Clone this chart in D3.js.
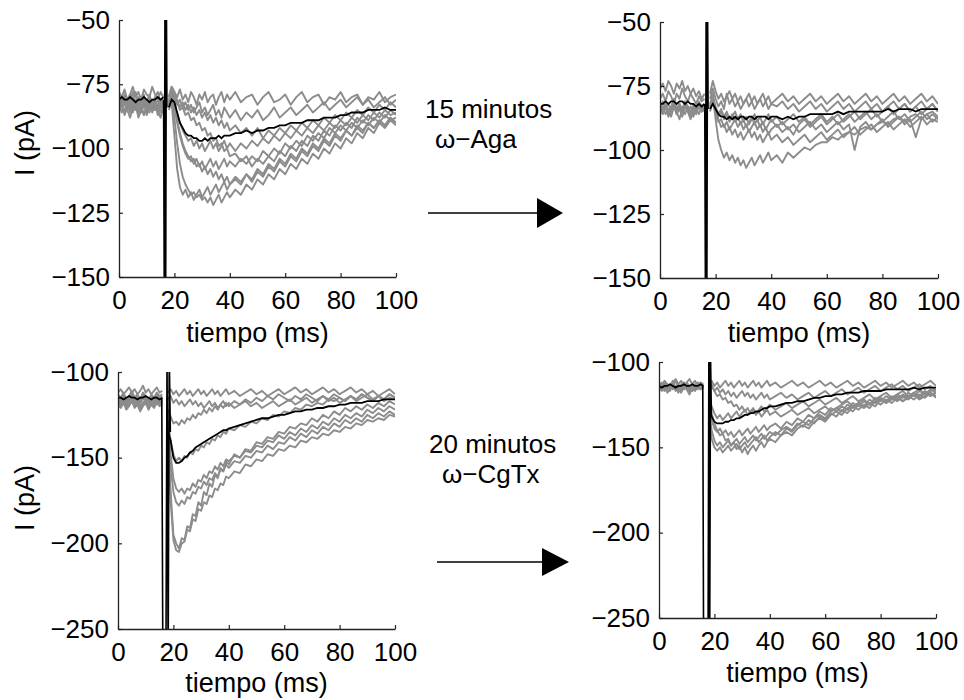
<!DOCTYPE html>
<html>
<head>
<meta charset="utf-8">
<script src="https://cdn.jsdelivr.net/npm/d3@7"></script>
<style>
    body { margin: 0; background: #fff; }
    text { font-family: "Liberation Sans", Arial, sans-serif; }
</style>
</head>
<body>
<svg id="fig" width="964" height="700"></svg>
<script>
// Sample times (ms) shared by every trace; the first 17 are before the stimulus artifact
const tiempo = [0,1,2,3,4,5,6,7,8,9,10,11,12,13,14,15,16,
    18,19,20,21,22,23,24,25,26,27,28,29,30,31,32,33,34,35,36,37,38,39,40,
    42,44,46,48,50,52,54,56,58,60,62,64,66,68,70,72,74,76,78,80,82,84,86,88,90,92,94,96,98,100]

const ticksX = [0, 20, 40, 60, 80, 100]
const ticksAga = [-150, -125, -100, -75, -50]
const ticksCgTx = [-250, -200, -150, -100]

// ---- top left: control before w-Aga ----
const mediaCtrlAga = [-81,-80,-81,-81,-80,-81,-82,-81,-81,-80,-81,-82,-81,-81,-80,-81,-80,
    -84,-81,-82,-86,-90,-92,-94,-95,-95,-96,-96,-97,-97,-96,-97,-96,-96,-96,-95,-96,-95,-95,-95,
    -94,-94,-93,-94,-93,-93,-92,-92,-91,-91,-90,-90,-90,-89,-89,-89,-88,-88,-88,-87,-87,-86,-86,-86,-85,-85,-85,-84,-85,-85]
const trazosCtrlAga = [
    [-78,-80,-77,-81,-79,-76,-80,-78,-81,-77,-79,-80,-76,-79,-81,-78,-80,
     -80,-76,-78,-80,-77,-81,-79,-82,-78,-80,-83,-79,-81,-78,-82,-80,-79,-83,-80,-78,-82,-79,-81,
     -78,-82,-80,-79,-83,-80,-78,-82,-81,-79,-83,-80,-78,-82,-80,-79,-83,-80,-81,-78,-82,-80,-79,-83,-80,-81,-78,-82,-80,-79],
    [-82,-84,-81,-85,-83,-80,-84,-82,-86,-83,-81,-84,-82,-85,-83,-81,-84,
     -82,-78,-80,-83,-81,-84,-82,-85,-83,-86,-84,-82,-86,-84,-87,-85,-83,-87,-85,-88,-84,-86,-88,
     -85,-89,-86,-88,-85,-89,-87,-84,-88,-86,-84,-87,-85,-83,-86,-84,-82,-85,-83,-81,-84,-82,-80,-83,-81,-84,-82,-80,-83,-81],
    [-80,-83,-79,-82,-85,-81,-78,-83,-80,-84,-82,-79,-83,-81,-85,-82,-80,
     -81,-77,-79,-81,-84,-82,-85,-83,-86,-84,-87,-85,-88,-86,-89,-87,-90,-88,-91,-89,-92,-90,-93,
     -91,-94,-92,-95,-92,-96,-93,-95,-92,-94,-91,-93,-90,-92,-89,-91,-88,-90,-87,-89,-86,-88,-85,-87,-84,-86,-83,-85,-82,-84],
    [-84,-81,-86,-83,-80,-85,-82,-87,-84,-81,-86,-83,-85,-82,-87,-84,-82,
     -83,-79,-82,-87,-90,-93,-95,-97,-96,-99,-97,-100,-98,-101,-99,-97,-100,-98,-101,-99,-97,-100,-98,
     -101,-98,-100,-97,-99,-96,-98,-95,-97,-94,-96,-93,-95,-92,-94,-91,-93,-90,-92,-89,-91,-88,-90,-87,-89,-86,-88,-85,-87,-86],
    [-79,-82,-80,-84,-81,-78,-83,-80,-82,-79,-84,-81,-83,-80,-78,-82,-81,
     -80,-76,-78,-82,-85,-84,-87,-86,-89,-88,-91,-90,-93,-92,-95,-94,-97,-96,-99,-98,-101,-100,-103,
     -102,-105,-103,-107,-104,-106,-103,-105,-101,-103,-99,-101,-97,-99,-95,-97,-93,-95,-91,-93,-90,-92,-88,-90,-87,-89,-86,-88,-85,-87],
    [-83,-86,-82,-85,-88,-84,-81,-86,-83,-87,-84,-82,-86,-83,-85,-88,-84,
     -84,-80,-84,-90,-95,-99,-102,-104,-103,-106,-104,-107,-105,-108,-106,-104,-107,-105,-108,-106,-104,-107,-105,
     -107,-104,-106,-103,-105,-101,-103,-100,-102,-98,-100,-97,-99,-95,-97,-94,-96,-92,-94,-91,-93,-90,-92,-89,-91,-88,-90,-87,-89,-88],
    [-81,-84,-80,-83,-86,-82,-85,-81,-84,-87,-83,-80,-84,-82,-86,-83,-81,
     -82,-78,-83,-89,-94,-98,-101,-103,-105,-104,-107,-106,-109,-107,-110,-108,-111,-109,-112,-110,-113,-111,-114,
     -111,-113,-110,-113,-109,-111,-107,-109,-105,-107,-103,-105,-101,-103,-99,-101,-97,-99,-95,-97,-93,-95,-92,-94,-90,-92,-89,-91,-88,-90],
    [-85,-82,-87,-84,-81,-86,-83,-88,-85,-82,-87,-84,-81,-85,-83,-86,-84,
     -85,-82,-95,-108,-115,-118,-116,-119,-117,-120,-118,-116,-119,-117,-115,-118,-116,-114,-117,-115,-113,-116,-114,
     -112,-114,-110,-112,-108,-110,-106,-108,-104,-106,-102,-104,-100,-102,-98,-100,-96,-98,-94,-96,-93,-95,-91,-93,-90,-92,-89,-91,-88,-90],
    [-80,-83,-86,-82,-79,-84,-81,-85,-82,-80,-83,-86,-82,-84,-81,-83,-85,
     -83,-79,-88,-98,-106,-111,-114,-116,-118,-117,-119,-118,-120,-119,-121,-119,-122,-120,-118,-121,-119,-117,-119,
     -116,-118,-114,-116,-112,-114,-110,-112,-108,-110,-106,-108,-104,-106,-102,-104,-100,-102,-98,-100,-96,-98,-94,-96,-92,-94,-90,-92,-89,-91]
]
const artTCtrlAga = [16.1, 16.35, 16.6, 16.85, 17.1, 17.3]
const artICtrlAga = [-81, -160, -40, -160, -40, -84]

// ---- top right: 15 minutes w-Aga ----
const mediaAga15 = [-82,-82,-81,-82,-81,-81,-82,-81,-81,-82,-81,-82,-82,-83,-82,-83,-82,
    -84,-82,-84,-86,-87,-87,-88,-87,-88,-87,-88,-87,-87,-88,-87,-87,-88,-87,-87,-87,-87,-88,-87,
    -87,-88,-87,-88,-87,-87,-86,-86,-86,-86,-86,-85,-86,-85,-85,-85,-85,-85,-85,-85,-84,-85,-84,-84,-84,-85,-84,-84,-84,-84]
const trazosAga15 = [
    [-76,-74,-77,-73,-75,-78,-74,-76,-73,-77,-75,-78,-76,-79,-77,-80,-78,
     -78,-73,-77,-80,-78,-81,-79,-77,-80,-78,-81,-79,-82,-80,-78,-81,-79,-82,-80,-78,-81,-79,-82,
     -80,-78,-81,-79,-82,-80,-78,-81,-79,-82,-80,-78,-81,-79,-82,-80,-78,-81,-79,-82,-80,-78,-81,-79,-82,-80,-78,-81,-79,-82],
    [-80,-78,-81,-77,-79,-82,-78,-80,-76,-79,-81,-78,-80,-82,-79,-81,-80,
     -80,-76,-80,-83,-81,-84,-78,-82,-80,-83,-81,-84,-82,-80,-83,-81,-84,-82,-80,-83,-81,-84,-82,
     -83,-81,-84,-82,-85,-83,-81,-84,-82,-85,-83,-81,-84,-82,-85,-83,-81,-84,-82,-85,-83,-81,-84,-82,-85,-83,-81,-84,-82,-85],
    [-84,-86,-83,-87,-85,-82,-86,-84,-87,-83,-85,-88,-84,-86,-83,-85,-84,
     -84,-80,-84,-87,-85,-88,-86,-89,-87,-85,-88,-86,-89,-87,-90,-88,-86,-89,-87,-90,-88,-86,-89,
     -87,-90,-88,-86,-89,-87,-90,-88,-86,-89,-87,-90,-88,-86,-89,-87,-85,-88,-86,-89,-87,-85,-88,-86,-89,-87,-85,-88,-86,-88],
    [-82,-85,-83,-86,-84,-81,-85,-83,-86,-82,-84,-87,-83,-85,-82,-84,-83,
     -83,-79,-83,-86,-84,-87,-85,-88,-86,-89,-87,-90,-88,-91,-89,-87,-90,-88,-91,-89,-92,-90,-88,
     -91,-89,-92,-90,-93,-91,-89,-92,-90,-93,-91,-89,-92,-90,-100,-91,-89,-92,-90,-88,-91,-89,-87,-90,-88,-95,-88,-86,-89,-87],
    [-85,-83,-86,-84,-87,-83,-85,-88,-84,-86,-83,-85,-87,-84,-86,-83,-85,
     -85,-81,-86,-89,-88,-91,-89,-92,-90,-88,-91,-89,-92,-90,-93,-91,-89,-92,-90,-93,-91,-94,-92,
     -90,-93,-91,-94,-90,-88,-91,-89,-87,-90,-88,-86,-89,-87,-85,-88,-86,-84,-87,-85,-83,-86,-84,-82,-85,-83,-86,-84,-82,-85],
    [-81,-84,-82,-85,-83,-80,-84,-82,-85,-81,-83,-86,-82,-84,-81,-83,-82,
     -82,-78,-88,-96,-100,-103,-101,-104,-102,-105,-103,-106,-104,-107,-105,-103,-106,-104,-102,-105,-103,-101,-104,
     -102,-105,-101,-103,-101,-99,-100,-98,-97,-97,-95,-96,-94,-93,-94,-92,-91,-92,-90,-89,-90,-88,-87,-89,-87,-86,-88,-86,-85,-87],
    [-83,-81,-84,-82,-85,-83,-86,-82,-84,-81,-85,-83,-86,-84,-82,-85,-83,
     -83,-80,-84,-88,-91,-90,-93,-91,-94,-92,-95,-93,-96,-94,-92,-95,-93,-96,-94,-97,-95,-93,-96,
     -94,-97,-95,-98,-96,-94,-97,-95,-93,-96,-94,-92,-95,-93,-91,-94,-92,-90,-93,-91,-89,-92,-90,-88,-91,-89,-87,-90,-88,-89]
]
const artTAga15 = [16.1, 16.35, 16.6, 16.85, 17.1, 17.3]
const artIAga15 = [-82, -160, -40, -160, -40, -84]

// ---- bottom left: control before w-CgTx ----
const mediaCtrlCgTx = [-115,-115,-116,-115,-114,-115,-115,-116,-115,-115,-114,-115,-116,-115,-115,-116,-115,
    -135,-140,-150,-153,-153,-152,-150,-149,-147,-146,-144,-143,-142,-141,-140,-139,-138,-137,-136,-135,-134,-134,-133,
    -132,-131,-130,-129,-128,-127,-127,-126,-125,-125,-124,-123,-123,-122,-122,-121,-121,-120,-120,-119,-119,-118,-118,-118,-117,-117,-117,-116,-116,-116]
const trazosCtrlCgTx = [
    [-112,-110,-113,-111,-109,-112,-110,-113,-111,-108,-112,-110,-113,-111,-109,-112,-111,
     -112,-110,-113,-111,-114,-112,-110,-113,-111,-114,-112,-110,-113,-111,-114,-112,-110,-113,-111,-114,-112,-110,-113,
     -111,-114,-112,-110,-113,-111,-114,-112,-110,-113,-111,-109,-112,-110,-113,-111,-109,-112,-110,-113,-111,-109,-112,-110,-113,-111,-114,-112,-110,-113],
    [-116,-118,-115,-119,-117,-114,-118,-116,-119,-115,-117,-120,-116,-118,-115,-117,-116,
     -116,-114,-118,-116,-119,-117,-120,-118,-116,-119,-117,-120,-118,-121,-119,-117,-120,-118,-121,-119,-117,-120,-118,
     -121,-119,-117,-120,-118,-121,-119,-117,-120,-118,-116,-119,-117,-115,-118,-116,-114,-117,-115,-118,-116,-114,-117,-115,-113,-116,-114,-117,-115,-116],
    [-118,-120,-117,-121,-119,-116,-120,-118,-122,-119,-117,-121,-118,-120,-117,-119,-118,
     -122,-126,-130,-129,-131,-128,-130,-127,-128,-125,-127,-124,-125,-122,-124,-121,-123,-120,-122,-119,-121,-118,-120,
     -117,-119,-116,-118,-115,-117,-114,-116,-113,-115,-117,-114,-116,-113,-115,-117,-114,-116,-113,-115,-117,-114,-116,-113,-115,-117,-114,-116,-113,-115],
    [-114,-116,-113,-117,-115,-112,-116,-114,-117,-113,-115,-118,-114,-116,-113,-115,-114,
     -128,-140,-148,-152,-150,-152,-149,-150,-147,-148,-145,-146,-143,-144,-141,-142,-139,-140,-137,-138,-135,-136,-133,
     -134,-131,-132,-129,-130,-127,-128,-125,-126,-123,-124,-121,-122,-119,-120,-118,-119,-116,-117,-115,-117,-114,-116,-113,-115,-117,-114,-116,-113,-115],
    [-117,-119,-116,-120,-118,-115,-119,-117,-121,-118,-116,-120,-117,-119,-116,-118,-117,
     -130,-148,-162,-168,-170,-168,-171,-168,-169,-165,-167,-163,-164,-160,-162,-158,-159,-155,-157,-153,-155,-151,-152,
     -149,-150,-146,-147,-143,-144,-140,-141,-137,-139,-135,-137,-133,-135,-131,-133,-129,-131,-127,-129,-125,-127,-124,-126,-122,-124,-121,-123,-120,-122],
    [-113,-115,-112,-116,-114,-111,-115,-113,-116,-112,-114,-117,-113,-115,-112,-114,-113,
     -132,-155,-170,-176,-178,-175,-177,-173,-174,-170,-171,-167,-168,-164,-166,-162,-163,-159,-161,-157,-158,-154,-156,
     -152,-153,-149,-150,-146,-147,-143,-145,-141,-142,-138,-140,-136,-138,-134,-136,-132,-134,-130,-132,-128,-130,-127,-129,-125,-127,-124,-126,-123,-125],
    [-119,-121,-118,-122,-120,-117,-121,-119,-123,-120,-118,-122,-119,-121,-118,-120,-119,
     -135,-170,-195,-200,-203,-197,-198,-190,-191,-183,-184,-176,-178,-170,-172,-165,-167,-160,-162,-156,-158,-152,-154,
     -148,-150,-145,-146,-141,-142,-138,-139,-135,-136,-132,-133,-130,-131,-127,-129,-125,-127,-123,-125,-121,-123,-120,-122,-119,-121,-118,-120,-117,-119],
    [-115,-117,-114,-118,-116,-113,-117,-115,-118,-114,-116,-119,-115,-117,-114,-116,-115,
     -135,-175,-198,-204,-205,-200,-199,-192,-193,-186,-187,-180,-181,-176,-177,-172,-173,-168,-169,-165,-166,-161,-162,
     -158,-159,-154,-155,-151,-152,-148,-149,-145,-146,-143,-144,-140,-141,-138,-139,-136,-137,-134,-135,-132,-133,-130,-131,-128,-129,-127,-128,-125,-126]
]
const artTCtrlCgTx = [15.8, 16.2, 17.3, 17.7, 18.1, 18.5, 18.9]
const artICtrlCgTx = [-115, -270, -270, -90, -270, -90, -135]

// ---- bottom right: 20 minutes w-CgTx ----
const mediaCgTx20 = [-114,-115,-114,-114,-113,-114,-115,-114,-114,-113,-114,-114,-113,-114,-114,-113,-114,
    -125,-132,-135,-136,-136,-136,-135,-135,-134,-134,-133,-133,-132,-131,-131,-130,-130,-129,-129,-128,-127,-127,-126,
    -126,-125,-124,-124,-123,-123,-122,-121,-121,-120,-120,-119,-119,-118,-118,-118,-117,-117,-117,-117,-116,-116,-116,-116,-116,-115,-116,-115,-115,-115]
const trazosCgTx20 = [
    [-112,-114,-111,-113,-115,-112,-110,-113,-111,-114,-112,-110,-113,-111,-114,-112,-113,
     -113,-111,-114,-112,-115,-113,-111,-114,-112,-115,-113,-111,-114,-112,-115,-113,-111,-114,-112,-115,-113,-111,-114,
     -112,-115,-113,-111,-114,-112,-115,-113,-111,-114,-112,-115,-113,-111,-114,-112,-115,-113,-111,-114,-112,-115,-113,-111,-114,-112,-115,-113,-111,-114],
    [-115,-113,-116,-114,-117,-113,-115,-118,-114,-116,-113,-115,-117,-114,-116,-113,-115,
     -116,-114,-117,-115,-118,-116,-119,-117,-120,-118,-121,-119,-117,-120,-118,-121,-119,-122,-120,-118,-121,-119,-122,
     -120,-118,-121,-119,-122,-120,-118,-121,-119,-117,-120,-118,-116,-119,-117,-115,-118,-116,-114,-117,-115,-113,-116,-114,-117,-115,-113,-116,-114,-117],
    [-113,-116,-114,-117,-115,-112,-116,-114,-117,-113,-115,-118,-114,-116,-113,-115,-114,
     -115,-113,-117,-120,-119,-122,-121,-124,-123,-126,-125,-128,-126,-129,-127,-130,-128,-131,-129,-132,-130,-128,-131,
     -129,-132,-130,-128,-131,-129,-127,-130,-128,-126,-129,-127,-125,-123,-126,-124,-122,-125,-123,-121,-124,-122,-120,-123,-121,-119,-122,-120,-118,-121],
    [-114,-112,-115,-113,-116,-114,-111,-115,-113,-116,-112,-114,-117,-113,-115,-112,-114,
     -120,-126,-130,-133,-131,-134,-132,-130,-133,-131,-129,-132,-130,-128,-131,-129,-127,-130,-128,-126,-129,-127,-125,
     -128,-126,-124,-127,-125,-123,-126,-124,-122,-125,-123,-121,-124,-122,-120,-123,-121,-119,-122,-120,-118,-121,-119,-117,-120,-118,-116,-119,-117,-116],
    [-116,-114,-117,-115,-113,-116,-114,-117,-115,-112,-116,-114,-117,-115,-113,-116,-115,
     -125,-134,-139,-141,-139,-142,-140,-143,-141,-144,-142,-140,-143,-141,-139,-142,-140,-138,-141,-139,-137,-140,-138,
     -136,-139,-135,-137,-133,-135,-131,-133,-129,-131,-127,-129,-126,-128,-124,-126,-123,-125,-121,-123,-120,-122,-119,-121,-118,-120,-117,-119,-116,-118],
    [-113,-115,-112,-116,-114,-111,-115,-113,-116,-112,-114,-117,-113,-115,-112,-114,-113,
     -128,-140,-146,-149,-147,-150,-148,-146,-149,-147,-145,-148,-146,-144,-147,-145,-143,-146,-144,-142,-145,-143,-141,
     -143,-140,-138,-140,-136,-138,-134,-136,-132,-134,-130,-132,-128,-130,-126,-128,-125,-127,-123,-125,-122,-124,-121,-123,-120,-122,-119,-121,-118,-120],
    [-115,-117,-114,-118,-116,-113,-117,-115,-118,-114,-116,-119,-115,-117,-114,-116,-115,
     -122,-130,-136,-140,-143,-142,-146,-145,-149,-147,-151,-149,-153,-150,-154,-151,-149,-152,-149,-147,-150,-147,-145,
     -147,-143,-141,-143,-139,-137,-139,-135,-133,-135,-131,-129,-131,-127,-129,-125,-127,-124,-126,-122,-124,-121,-123,-120,-122,-119,-121,-118,-120,-118],
    [-114,-116,-113,-117,-115,-112,-116,-114,-117,-113,-115,-118,-114,-116,-113,-115,-114,
     -132,-145,-150,-152,-150,-153,-151,-149,-152,-150,-148,-151,-149,-147,-150,-148,-146,-144,-147,-145,-143,-146,-144,
     -141,-143,-139,-141,-137,-135,-137,-133,-131,-133,-129,-127,-129,-125,-127,-124,-126,-122,-124,-121,-123,-120,-122,-119,-121,-118,-120,-117,-119,-118]
]
const artTCgTx20 = [15.8, 16.1, 17.7, 18.0, 18.3, 18.6, 18.9]
const artICgTx20 = [-114, -270, -270, -95, -270, -95, -130]

// Panel layout (pixel boxes)
const paneles = [
    { id: "ctrlAga", media: mediaCtrlAga, trazos: trazosCtrlAga, artT: artTCtrlAga, artI: artICtrlAga,
      x0: 119, x1: 396, y0: 20, y1: 277, dominio: [-150, -50], ticksY: ticksAga, ylabel: 143, xlabel: 342 },
    { id: "aga15", media: mediaAga15, trazos: trazosAga15, artT: artTAga15, artI: artIAga15,
      x0: 660, x1: 938, y0: 22, y1: 278, dominio: [-150, -50], ticksY: ticksAga, ylabel: null, xlabel: 342 },
    { id: "ctrlCgTx", media: mediaCtrlCgTx, trazos: trazosCtrlCgTx, artT: artTCtrlCgTx, artI: artICtrlCgTx,
      x0: 118, x1: 395, y0: 372, y1: 629, dominio: [-250, -100], ticksY: ticksCgTx, ylabel: 498, xlabel: 692 },
    { id: "cgtx20", media: mediaCgTx20, trazos: trazosCgTx20, artT: artTCgTx20, artI: artICgTx20,
      x0: 659, x1: 936, y0: 362, y1: 618, dominio: [-250, -100], ticksY: ticksCgTx, ylabel: null, xlabel: 682 }
]

const svg = d3.select("#fig")
const defs = svg.append("defs")

function drawPanel(p) {
    var x = d3.scaleLinear().domain([0, 100]).range([p.x0, p.x1])
    var y = d3.scaleLinear().domain(p.dominio).range([p.y1, p.y0])

    defs.append("clipPath").attr("id", "clip-" + p.id)
        .append("rect")
        .attr("x", p.x0).attr("y", p.y0)
        .attr("width", p.x1 - p.x0).attr("height", p.y1 - p.y0)

    var g = svg.append("g").attr("id", p.id)
    var area = g.append("g").attr("clip-path", "url(#clip-" + p.id + ")")

    var line = d3.line().x(d => x(d[0])).y(d => y(d[1]))

    // pre and post artifact pieces are drawn separately
    function segments(vals) {
        var pts = tiempo.map((t, i) => [t, vals[i]]).filter(d => d[1] !== undefined)
        return [pts.slice(0, 17), pts.slice(17)]
    }

    p.trazos.forEach(tr => {
        area.selectAll(null)
            .data(segments(tr))
            .enter()
            .append("path")
            .attr("d", line)
            .attr("fill", "none")
            .attr("stroke", "#8c8c8c")
            .attr("stroke-width", 1.9)
            .attr("stroke-linejoin", "round")
    })

    area.selectAll(null)
        .data(segments(p.media))
        .enter()
        .append("path")
        .attr("d", line)
        .attr("fill", "none")
        .attr("stroke", "#000")
        .attr("stroke-width", 1.8)

    // stimulus artifact
    area.append("path")
        .datum(p.artT.map((t, i) => [t, p.artI[i]]))
        .attr("d", line)
        .attr("fill", "none")
        .attr("stroke", "#000")
        .attr("stroke-width", 1.6)

    // axes, MATLAB style with inward ticks
    var ax = g.append("g")
        .attr("transform", "translate(0," + p.y1 + ")")
        .call(d3.axisBottom(x).tickValues(ticksX).tickSizeInner(-4).tickSizeOuter(0).tickPadding(14).tickFormat(d3.format("d")))
    var ay = g.append("g")
        .attr("transform", "translate(" + p.x0 + ",0)")
        .call(d3.axisLeft(y).tickValues(p.ticksY).tickSizeInner(-4).tickSizeOuter(0).tickPadding(9).tickFormat(d3.format("d")))

    ;[ax, ay].forEach(a => {
        a.attr("font-family", "'Liberation Sans', Arial, sans-serif").attr("font-size", 26)
        a.select(".domain").attr("stroke", "#222").attr("stroke-width", 1.3)
        a.selectAll(".tick line").attr("stroke", "#222").attr("stroke-width", 1.2)
        a.selectAll("text").attr("fill", "#000")
    })

    g.append("text")
        .attr("x", (p.x0 + p.x1) / 2)
        .attr("y", p.xlabel)
        .attr("text-anchor", "middle")
        .attr("font-size", 27)
        .text("tiempo (ms)")

    if (p.ylabel !== null) {
        g.append("text")
            .attr("transform", "translate(25," + p.ylabel + ") rotate(-90)")
            .attr("text-anchor", "middle")
            .attr("dy", "0.35em")
            .attr("font-size", 27)
            .text("I (pA)")
    }
}

paneles.forEach(drawPanel)

// treatment notes and arrows between panels
const notas = [
    { x: 425, y: 118, texto: "15 minutos" },
    { x: 435, y: 148, texto: "ω−Aga" },
    { x: 429, y: 453, texto: "20 minutos" },
    { x: 442, y: 483, texto: "ω−CgTx" }
]
svg.selectAll(null)
    .data(notas)
    .enter()
    .append("text")
    .attr("x", d => d.x)
    .attr("y", d => d.y)
    .attr("font-size", 26)
    .text(d => d.texto)

const flechas = [
    { x1: 428, x2: 537, y: 213, punta: 26, alto: 15 },
    { x1: 437, x2: 542, y: 562, punta: 27, alto: 14 }
]
flechas.forEach(f => {
    svg.append("line")
        .attr("x1", f.x1).attr("x2", f.x2 + 2)
        .attr("y1", f.y).attr("y2", f.y)
        .attr("stroke", "#000").attr("stroke-width", 1.5)
    svg.append("path")
        .attr("d", "M" + f.x2 + "," + (f.y - f.alto) + "L" + (f.x2 + f.punta) + "," + f.y + "L" + f.x2 + "," + (f.y + f.alto) + "Z")
        .attr("fill", "#000")
})
</script>
</body>
</html>
